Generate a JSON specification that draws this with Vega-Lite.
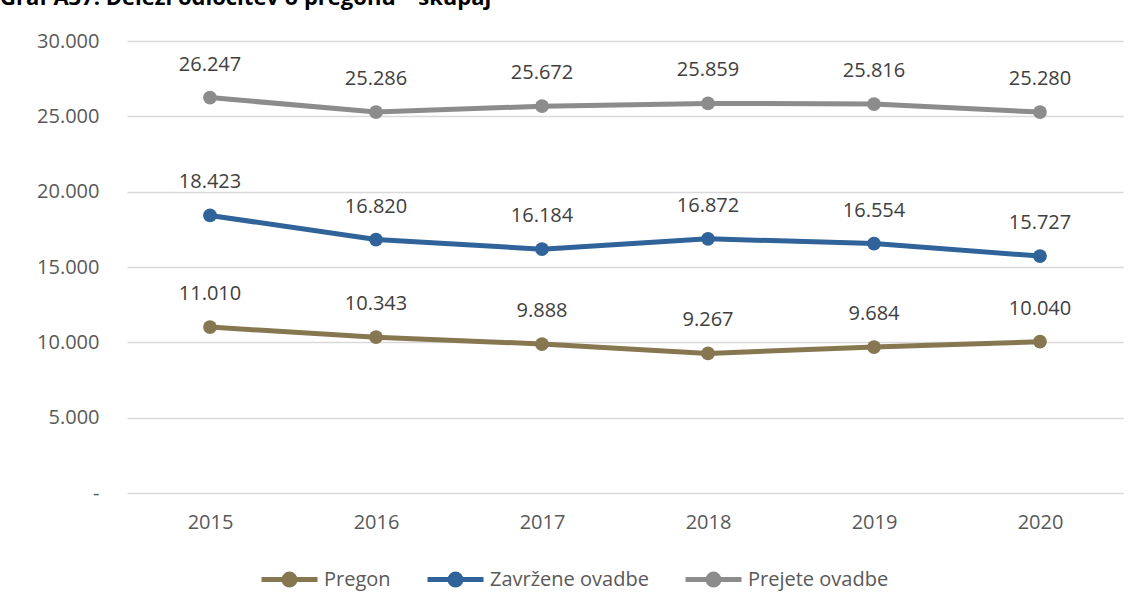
{
  "$schema": "https://vega.github.io/schema/vega-lite/v6.json",
  "width": 996,
  "height": 452,
  "autosize": {"type": "none"},
  "padding": {"left": 127, "top": 41, "right": 15, "bottom": 115},
  "background": "white",
  "config": {
    "locale": {"number": {"decimal": ",", "thousands": ".", "grouping": [3], "currency": ["", " €"]}},
    "view": {"stroke": null},
    "font": "Open Sans"
  },
  "title": {
    "text": "Graf A37: Deleži odločitev o pregonu – skupaj",
    "anchor": "start",
    "frame": "group",
    "orient": "top",
    "font": "Open Sans",
    "fontSize": 22,
    "fontWeight": "bold",
    "color": "#000000",
    "baseline": "alphabetic",
    "offset": 4,
    "dx": -127
  },
  "data": {
    "values": [
      {"leto": "2015", "serija": "Pregon", "vrednost": 11010},
      {"leto": "2016", "serija": "Pregon", "vrednost": 10343},
      {"leto": "2017", "serija": "Pregon", "vrednost": 9888},
      {"leto": "2018", "serija": "Pregon", "vrednost": 9267},
      {"leto": "2019", "serija": "Pregon", "vrednost": 9684},
      {"leto": "2020", "serija": "Pregon", "vrednost": 10040},
      {"leto": "2015", "serija": "Zavržene ovadbe", "vrednost": 18423},
      {"leto": "2016", "serija": "Zavržene ovadbe", "vrednost": 16820},
      {"leto": "2017", "serija": "Zavržene ovadbe", "vrednost": 16184},
      {"leto": "2018", "serija": "Zavržene ovadbe", "vrednost": 16872},
      {"leto": "2019", "serija": "Zavržene ovadbe", "vrednost": 16554},
      {"leto": "2020", "serija": "Zavržene ovadbe", "vrednost": 15727},
      {"leto": "2015", "serija": "Prejete ovadbe", "vrednost": 26247},
      {"leto": "2016", "serija": "Prejete ovadbe", "vrednost": 25286},
      {"leto": "2017", "serija": "Prejete ovadbe", "vrednost": 25672},
      {"leto": "2018", "serija": "Prejete ovadbe", "vrednost": 25859},
      {"leto": "2019", "serija": "Prejete ovadbe", "vrednost": 25816},
      {"leto": "2020", "serija": "Prejete ovadbe", "vrednost": 25280}
    ]
  },
  "encoding": {
    "x": {
      "field": "leto",
      "type": "ordinal",
      "scale": {"type": "point", "padding": 0.5},
      "axis": {
        "title": null,
        "labelAngle": 0,
        "labelFont": "Open Sans",
        "labelFontSize": 20,
        "labelColor": "#595959",
        "labelPadding": 19,
        "ticks": false,
        "domain": false,
        "grid": false
      }
    },
    "y": {
      "field": "vrednost",
      "type": "quantitative",
      "scale": {"domain": [0, 30000], "nice": false},
      "axis": {
        "title": null,
        "values": [0, 5000, 10000, 15000, 20000, 25000, 30000],
        "labelExpr": "datum.value == 0 ? '-' : format(datum.value, ',.0f')",
        "labelFont": "Open Sans",
        "labelFontSize": 20,
        "labelColor": "#595959",
        "labelPadding": 28,
        "ticks": false,
        "domain": false,
        "grid": true,
        "gridColor": "#d9d9d9",
        "gridWidth": 1.5
      }
    },
    "color": {
      "field": "serija",
      "type": "nominal",
      "scale": {
        "domain": ["Pregon", "Zavržene ovadbe", "Prejete ovadbe"],
        "range": ["#877751", "#2f6399", "#8c8c8c"]
      },
      "legend": {
        "title": null,
        "orient": "none",
        "direction": "horizontal",
        "legendX": 146,
        "legendY": 522,
        "symbolType": "M-2,0H2M0.39,0A0.39,0.39,0,1,1,-0.39,0A0.39,0.39,0,1,1,0.39,0Z",
        "symbolSize": 784,
        "symbolStrokeWidth": 5,
        "symbolOffset": 0,
        "labelFont": "Open Sans",
        "labelFontSize": 20,
        "labelColor": "#595959",
        "labelOffset": 18,
        "columnPadding": 26
      }
    }
  },
  "layer": [
    {
      "mark": {"type": "line", "strokeWidth": 5, "strokeCap": "round"},
      "encoding": {"detail": {"field": "serija"}}
    },
    {
      "mark": {"type": "point", "filled": true, "size": 190, "opacity": 1},
      "encoding": {}
    },
    {
      "mark": {"type": "text", "dy": -33, "fontSize": 20, "font": "Open Sans", "color": "#404040"},
      "encoding": {
        "text": {"field": "vrednost", "type": "quantitative", "format": ",.0f"},
        "color": {"value": "#404040"}
      }
    }
  ]
}
